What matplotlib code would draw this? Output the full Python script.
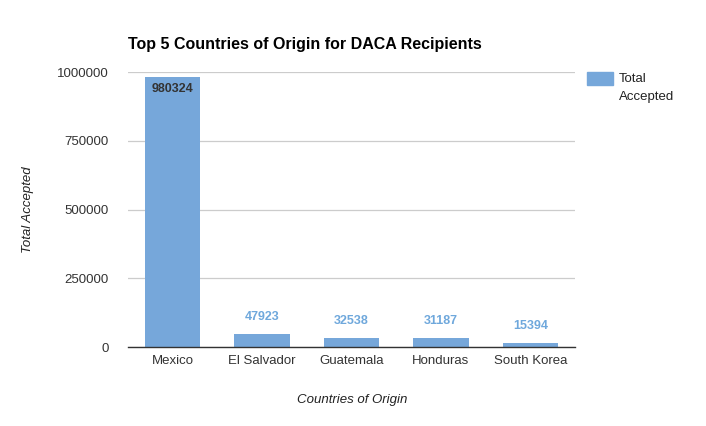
import matplotlib.pyplot as plt
import matplotlib.patches as mpatches

countries = ["Mexico", "El Salvador", "Guatemala", "Honduras", "South Korea"]
accepted = [980324, 47923, 32538, 31187, 15394]
y_ticks = [0, 250000, 500000, 750000, 1000000]

bar_color = "#76a7da"
plt.rcParams['font.family'] = ['Liberation Sans', 'DejaVu Sans']

fig = plt.figure(figsize=(7.06, 4.26), dpi=100)
ax = fig.add_axes([128 / 706, 1 - 347 / 426, 447 / 706, 275 / 426])

xs = list(range(len(countries)))
bars = ax.bar(xs, accepted, width=0.62, color=bar_color, zorder=2)

ax.set_xlim(-0.5, len(countries) - 0.5)
ax.set_ylim(0, 1000000)
ax.set_yticks(y_ticks)
ax.set_yticklabels([str(t) for t in y_ticks])
ax.set_xticks(xs)
ax.set_xticklabels(countries)
ax.tick_params(axis="both", length=0, labelsize=9.5, colors="#333333")
ax.tick_params(axis="y", pad=14)
ax.tick_params(axis="x", pad=6)

ax.grid(axis="y", color="#cccccc", linewidth=0.9, zorder=0)
for s in ["top", "right", "left"]:
    ax.spines[s].set_visible(False)
ax.spines["bottom"].set_color("#333333")
ax.spines["bottom"].set_linewidth(1.0)
ax.spines["bottom"].set_zorder(3)

# value labels
for i, v in enumerate(accepted):
    if v > 500000:
        ax.annotate(str(v), (i, v), xytext=(0, -4), textcoords="offset points",
                    ha="center", va="top", fontsize=9, fontweight="bold", color="#333333")
    else:
        ax.annotate(str(v), (i, v), xytext=(0, 8), textcoords="offset points",
                    ha="center", va="bottom", fontsize=9, fontweight="bold", color="#6fa8dc")

fig.text(128 / 706, 1 - 44 / 426, "Top 5 Countries of Origin for DACA Recipients",
         fontsize=11.5, fontweight="bold", ha="left", va="center", color="#000000")
fig.text(28 / 706, 1 - 210 / 426, "Total Accepted", rotation=90, fontsize=9.5,
         style="italic", ha="center", va="center", color="#222222")
fig.text(352 / 706, 1 - 400 / 426, "Countries of Origin", fontsize=9.5,
         style="italic", ha="center", va="center", color="#222222")

# legend
fig.patches.append(mpatches.Rectangle((587 / 706, 1 - 85 / 426), 26 / 706, 13 / 426,
                                      transform=fig.transFigure, color=bar_color))
fig.text(619 / 706, 1 - 73 / 426, "Total\nAccepted", fontsize=9.5, ha="left", va="top",
         color="#222222", linespacing=1.65)

plt.savefig("out.png", dpi=100)
